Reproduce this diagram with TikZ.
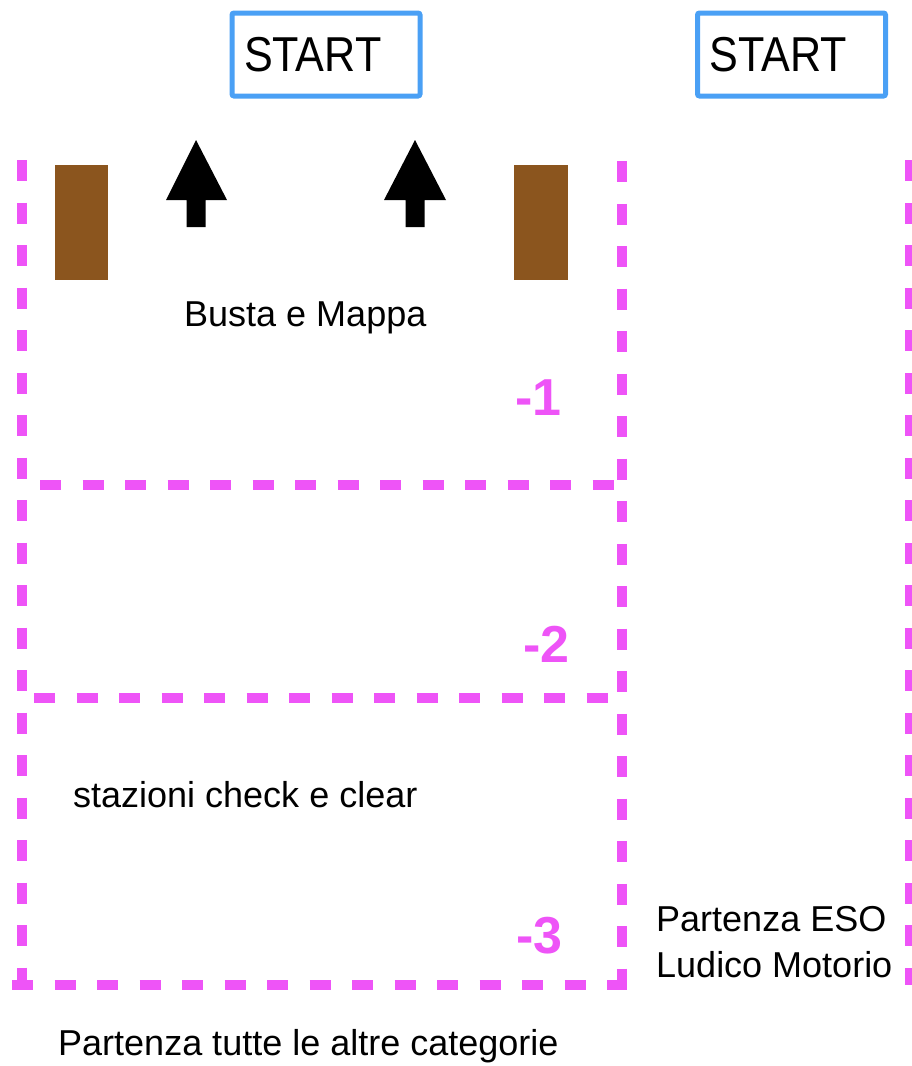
\documentclass[tikz,border=0pt]{standalone}
\usepackage{fontspec}
\setmainfont{Liberation Sans}
\newfontfamily\startfont[FakeStretch=0.88]{Liberation Sans}
\definecolor{magline}{RGB}{238,84,247}
\definecolor{startblue}{RGB}{74,160,245}
\definecolor{woodbrown}{RGB}{139,85,30}
\tikzset{
  magdash/.style={draw=magline, line width=10.5pt, dash pattern=on 21pt off 21.5pt},
  startbox/.style={draw=startblue, line width=5pt, rounded corners=2pt, minimum height=83pt,
    text width=164pt, align=left, inner xsep=12pt, font=\startfont\fontsize{49}{52}\selectfont},
  txt/.style={inner sep=0pt, anchor=base west, font=\fontsize{36}{46}\selectfont},
  numlbl/.style={inner sep=0pt, anchor=base west, text=magline, font=\bfseries\fontsize{52}{56}\selectfont},
  wood/.style={fill=woodbrown},
  uparrow/.style={fill=black}
}
\begin{document}
\begin{tikzpicture}[x=1pt,y=-1pt]
\useasboundingbox (0,0) rectangle (911,1066);
% START boxes
\node[startbox] (s1) at (326,54.5) {START};
\node[startbox] (s2) at (791.5,54.5) {START};
% dashed magenta lines
\coordinate (lt) at (22,160);   \coordinate (lb) at (22,990);
\coordinate (rt) at (622,161);  \coordinate (rb) at (622,995);
\coordinate (ft) at (910,160);  \coordinate (fb) at (910,985);
\coordinate (h1a) at (40,485);  \coordinate (h1b) at (618,485);
\coordinate (h2a) at (34,698);  \coordinate (h2b) at (612,698);
\coordinate (h3a) at (12,985);  \coordinate (h3b) at (618,985);
\draw[magdash] (lt) -- (lb);
\draw[magdash] (rt) -- (rb);
\draw[magdash] (ft) -- (fb);
\draw[magdash] (h1a) -- (h1b);
\draw[magdash] (h2a) -- (h2b);
\draw[magdash] (h3a) -- (h3b);
% brown blocks
\fill[wood] (55,165) rectangle (108,280);
\fill[wood] (514,165) rectangle (568,280);
% arrows
\fill[uparrow] (196,140) -- (227,200) -- (205.5,200) -- (205.5,227) -- (186.5,227) -- (186.5,200) -- (166,200) -- cycle;
\fill[uparrow] (415,140) -- (446,200) -- (424.5,200) -- (424.5,227) -- (405.5,227) -- (405.5,200) -- (384,200) -- cycle;
% texts
\node[txt] (busta) at (184,326) {Busta e Mappa};
\node[txt] (staz) at (73,807) {stazioni check e clear};
\node[txt, align=left, anchor=north west] (eso) at (656,906) {Partenza ESO\\Ludico Motorio};
\node[txt] (altre) at (58,1055) {Partenza tutte le altre categorie};
\node[numlbl] (n1) at (515,415) {-1};
\node[numlbl] (n2) at (523,662) {-2};
\node[numlbl] (n3) at (516,953) {-3};
\end{tikzpicture}
\end{document}
